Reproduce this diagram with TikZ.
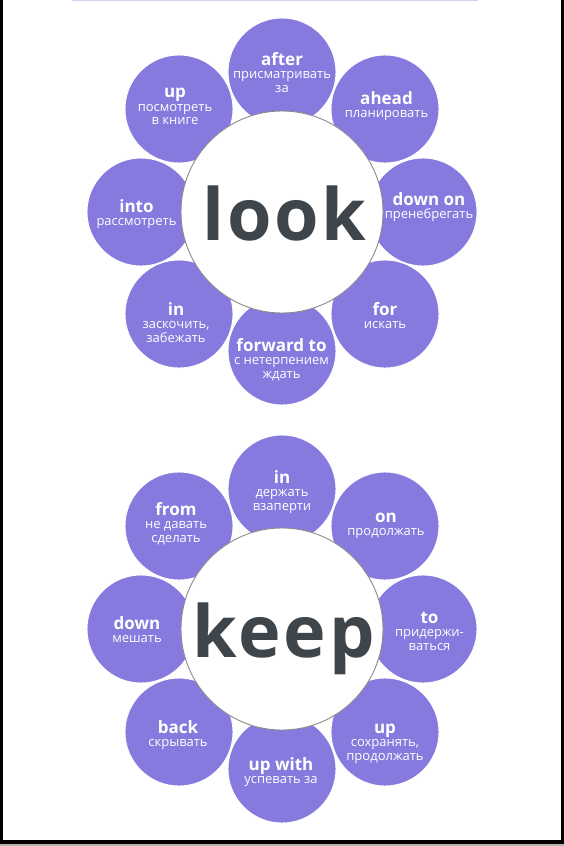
\documentclass[tikz,border=0pt]{standalone}
\usepackage{fontspec}
\setmainfont{Open Sans}
\newfontfamily\headfont[LetterSpace=4]{Open Sans}
\definecolor{petal}{RGB}{134,122,222}
\definecolor{word}{RGB}{62,70,75}
\definecolor{rim}{RGB}{140,140,140}
\newcommand\wordtwo[5]{%
  \node[bw,anchor=base] (#1b) at (#2,#3) {#4};
  \node[rw,anchor=base] (#1r) at (#2,#3+13.5) {#5};}
\newcommand\wordthree[6]{%
  \wordtwo{#1}{#2}{#3}{#4}{#5}
  \node[rw,anchor=base] (#1s) at (#2,#3+27) {#6};}
\begin{document}
\begin{tikzpicture}[x=1pt,y=-1pt,
  petalc/.style={circle,fill=petal,draw=white,line width=0.9pt,minimum size=108pt,inner sep=0pt},
  hub/.style={circle,fill=white,draw=rim,line width=0.9pt,minimum size=202pt,inner sep=0pt},
  bw/.style={text=white,inner sep=0pt,font=\fontsize{17}{18}\selectfont\bfseries},
  rw/.style={text=white,inner sep=0pt,font=\fontsize{13}{14}\selectfont},
  headw/.style={text=word,inner sep=0pt,font=\fontsize{72}{72}\selectfont\headfont\bfseries}]
\useasboundingbox (0,0) rectangle (564,846);
\fill[white] (0,0) rectangle (564,846);
% frame
\fill[black] (0,0) rectangle (2.7,846);
\fill[black] (561,0) rectangle (564,846);
\fill[black] (0,839.5) rectangle (564,844);
\fill[black!30] (0,844) rectangle (564,846);
\fill[petal!35] (72,0) rectangle (478,1.3);
% ---------- look ----------
\node[petalc] (la) at (282,72) {};
\node[petalc] (lb) at (385,109) {};
\node[petalc] (lc) at (423,212) {};
\node[petalc] (ld) at (385,314) {};
\node[petalc] (le) at (282,351) {};
\node[petalc] (lf) at (179,314) {};
\node[petalc] (lg) at (141,212) {};
\node[petalc] (lh) at (179,109) {};
\node[hub] (L) at (282,212) {};
\node[headw,anchor=base] (Lw) at (284.5,240) {look};
\wordthree{la}{282}{65}{after}{присматривать}{за}
\wordtwo{lb}{386.5}{104}{ahead}{планировать}
\wordtwo{lc}{429}{205}{down on}{пренебрегать}
\wordtwo{ld}{385}{315}{for}{искать}
\wordthree{le}{281.5}{351}{forward to}{с нетерпением}{ждать}
\wordthree{lf}{176}{315}{in}{заскочить,}{забежать}
\wordtwo{lg}{136.5}{212}{into}{рассмотреть}
\wordthree{lh}{175}{97.5}{up}{посмотреть}{в книге}
% ---------- keep ----------
\node[petalc] (ka) at (282,489) {};
\node[petalc] (kb) at (385,526) {};
\node[petalc] (kc) at (423,629) {};
\node[petalc] (kd) at (385,732) {};
\node[petalc] (ke) at (282,769) {};
\node[petalc] (kf) at (179,732) {};
\node[petalc] (kg) at (141,629) {};
\node[petalc] (kh) at (179,526) {};
\node[hub] (K) at (282,629) {};
\node[headw,anchor=base] (Kw) at (283.5,657) {keep};
\wordthree{ka}{282}{483}{in}{держать}{взаперти}
\wordtwo{kb}{386}{522}{on}{продолжать}
\wordthree{kc}{429.5}{623}{to}{придержи-}{ваться}
\wordthree{kd}{385}{733}{up}{сохранять,}{продолжать}
\wordtwo{ke}{281}{770}{up with}{успевать за}
\wordtwo{kf}{178}{733}{back}{скрывать}
\wordtwo{kg}{137}{629}{down}{мешать}
\wordthree{kh}{176}{515}{from}{не давать}{сделать}
\end{tikzpicture}
\end{document}
